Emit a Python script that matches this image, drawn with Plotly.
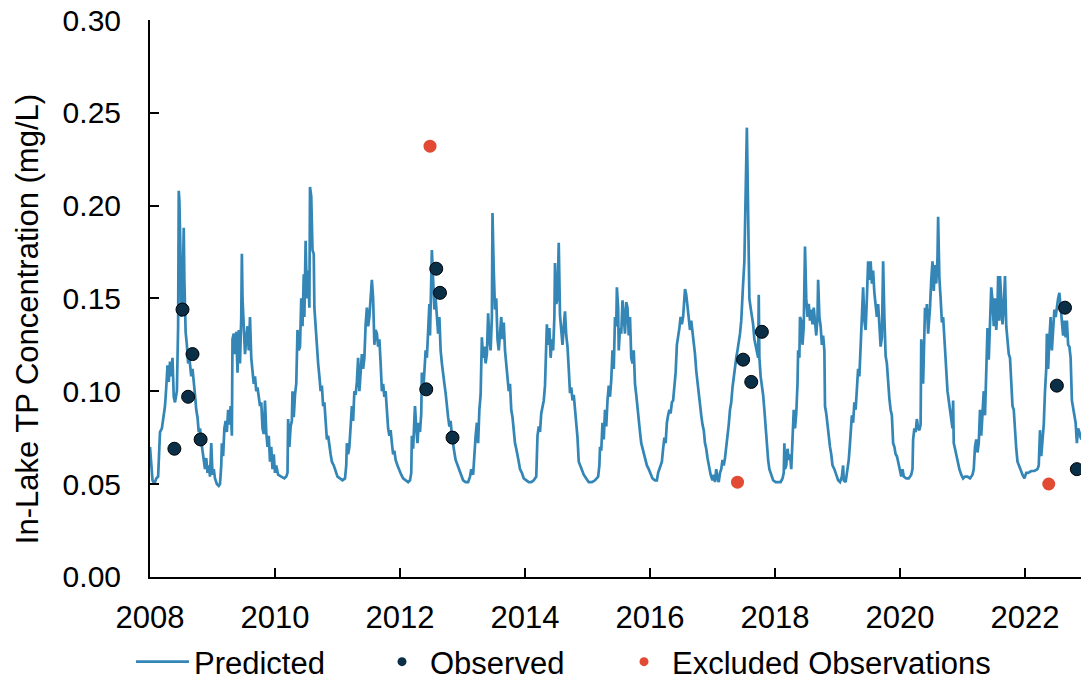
import plotly.graph_objects as go

# Predicted in-lake total phosphorus (decimal year, mg/L)
pred_year = [
    2008.00, 2008.02, 2008.04, 2008.07, 2008.10, 2008.13, 2008.16, 2008.19, 2008.22, 2008.24,
    2008.26, 2008.28, 2008.30, 2008.32, 2008.34, 2008.36, 2008.38, 2008.40, 2008.43, 2008.45,
    2008.46, 2008.47, 2008.49, 2008.50, 2008.52, 2008.54, 2008.55, 2008.57, 2008.59, 2008.61,
    2008.63, 2008.66, 2008.68, 2008.70, 2008.72, 2008.74, 2008.76, 2008.78, 2008.80, 2008.82,
    2008.84, 2008.86, 2008.88, 2008.90, 2008.92, 2008.94, 2008.96, 2008.98, 2009.00, 2009.02,
    2009.04, 2009.07, 2009.10, 2009.12,
    2009.14, 2009.15, 2009.17, 2009.19, 2009.21, 2009.23, 2009.25, 2009.27, 2009.29, 2009.31,
    2009.32, 2009.34, 2009.36, 2009.38, 2009.40, 2009.42, 2009.44, 2009.46, 2009.47, 2009.48,
    2009.50, 2009.52, 2009.54, 2009.56, 2009.58, 2009.60, 2009.62, 2009.64, 2009.66, 2009.68,
    2009.70, 2009.72, 2009.74, 2009.76, 2009.78, 2009.80, 2009.82, 2009.84, 2009.86, 2009.88,
    2009.90, 2009.92, 2009.94, 2009.96, 2009.98, 2010.00, 2010.02, 2010.05, 2010.10, 2010.15,
    2010.18,
    2010.20, 2010.21, 2010.23, 2010.25, 2010.27, 2010.28, 2010.30, 2010.32, 2010.34, 2010.36,
    2010.38, 2010.40, 2010.42, 2010.44, 2010.46, 2010.47, 2010.49, 2010.51, 2010.53, 2010.55,
    2010.56, 2010.58, 2010.60, 2010.62, 2010.63, 2010.65, 2010.67, 2010.69, 2010.71, 2010.73,
    2010.75, 2010.77, 2010.79, 2010.81, 2010.83, 2010.85, 2010.87, 2010.89, 2010.91, 2010.94,
    2010.97, 2011.00, 2011.04, 2011.08, 2011.12,
    2011.14, 2011.15, 2011.17, 2011.19, 2011.21, 2011.23, 2011.25, 2011.27, 2011.29, 2011.31,
    2011.33, 2011.35, 2011.37, 2011.39, 2011.41, 2011.43, 2011.45, 2011.47, 2011.49, 2011.51,
    2011.53, 2011.55, 2011.57, 2011.59, 2011.61, 2011.63, 2011.65, 2011.67, 2011.69, 2011.71,
    2011.73, 2011.75, 2011.77, 2011.79, 2011.81, 2011.83, 2011.85, 2011.87, 2011.89, 2011.91,
    2011.93, 2011.96, 2011.99, 2012.02, 2012.05, 2012.09, 2012.13, 2012.16,
    2012.18, 2012.19, 2012.21, 2012.23, 2012.24, 2012.26, 2012.28, 2012.30, 2012.32, 2012.34,
    2012.35, 2012.37, 2012.39, 2012.41, 2012.43, 2012.45, 2012.47, 2012.48, 2012.50, 2012.51,
    2012.53, 2012.55, 2012.57, 2012.59, 2012.61, 2012.63, 2012.65, 2012.67, 2012.69, 2012.71,
    2012.73, 2012.75, 2012.77, 2012.79, 2012.81, 2012.83, 2012.85, 2012.87, 2012.89, 2012.92,
    2012.95, 2012.98, 2013.01, 2013.05, 2013.09, 2013.12,
    2013.14, 2013.17, 2013.19, 2013.21, 2013.23, 2013.25, 2013.27, 2013.29, 2013.31, 2013.33,
    2013.35, 2013.37, 2013.39, 2013.41, 2013.43, 2013.45, 2013.47, 2013.48, 2013.50, 2013.52,
    2013.54, 2013.56, 2013.58, 2013.60, 2013.62, 2013.64, 2013.66, 2013.68, 2013.70, 2013.72,
    2013.74, 2013.76, 2013.78, 2013.80, 2013.82, 2013.84, 2013.86, 2013.88, 2013.90, 2013.92,
    2013.95, 2013.98, 2014.02, 2014.06, 2014.10, 2014.14, 2014.18,
    2014.20, 2014.22, 2014.24, 2014.26, 2014.28, 2014.30, 2014.32, 2014.34, 2014.35, 2014.37,
    2014.39, 2014.41, 2014.43, 2014.45, 2014.47, 2014.48, 2014.50, 2014.52, 2014.54, 2014.56,
    2014.58, 2014.60, 2014.62, 2014.64, 2014.66, 2014.68, 2014.70, 2014.72, 2014.74, 2014.76,
    2014.78, 2014.80, 2014.82, 2014.84, 2014.86, 2014.88, 2014.91, 2014.94, 2014.98, 2015.02,
    2015.07, 2015.12, 2015.17,
    2015.19, 2015.20, 2015.22, 2015.24, 2015.26, 2015.28, 2015.30, 2015.32, 2015.34, 2015.36,
    2015.38, 2015.40, 2015.42, 2015.44, 2015.46, 2015.47, 2015.49, 2015.50, 2015.52, 2015.54,
    2015.56, 2015.58, 2015.60, 2015.62, 2015.64, 2015.66, 2015.68, 2015.70, 2015.72, 2015.74,
    2015.76, 2015.78, 2015.80, 2015.82, 2015.84, 2015.86, 2015.88, 2015.90, 2015.92, 2015.95,
    2015.98, 2016.01, 2016.04, 2016.08, 2016.11, 2016.13,
    2016.15, 2016.17, 2016.19, 2016.21, 2016.23, 2016.25, 2016.27, 2016.29, 2016.31, 2016.33,
    2016.35, 2016.37, 2016.39, 2016.41, 2016.43, 2016.45, 2016.47, 2016.49, 2016.51, 2016.53,
    2016.55, 2016.56, 2016.58, 2016.60, 2016.62, 2016.64, 2016.66, 2016.68, 2016.70, 2016.72,
    2016.74, 2016.76, 2016.78, 2016.80, 2016.82, 2016.84, 2016.86, 2016.88, 2016.90, 2016.92,
    2016.94, 2016.97, 2017.00, 2017.02, 2017.04, 2017.06, 2017.08, 2017.10, 2017.12, 2017.14,
    2017.16, 2017.18, 2017.20, 2017.22, 2017.24, 2017.26, 2017.28, 2017.30, 2017.32, 2017.34,
    2017.36, 2017.38, 2017.40, 2017.42, 2017.44, 2017.46, 2017.47, 2017.49, 2017.51, 2017.52,
    2017.54, 2017.55, 2017.56, 2017.57, 2017.58, 2017.59, 2017.61, 2017.63, 2017.65, 2017.67,
    2017.69, 2017.71, 2017.73, 2017.74, 2017.75, 2017.77, 2017.79, 2017.81, 2017.83, 2017.85,
    2017.87, 2017.89, 2017.91, 2017.94, 2017.97, 2018.01, 2018.05, 2018.09, 2018.12,
    2018.14, 2018.15, 2018.16, 2018.18, 2018.20, 2018.22, 2018.24, 2018.26, 2018.28, 2018.30,
    2018.32, 2018.34, 2018.36, 2018.37, 2018.39, 2018.40, 2018.42, 2018.44, 2018.46, 2018.48,
    2018.50, 2018.52, 2018.54, 2018.56, 2018.58, 2018.60, 2018.62, 2018.64, 2018.66, 2018.68,
    2018.69, 2018.71, 2018.73, 2018.75, 2018.77, 2018.79, 2018.80, 2018.82, 2018.84, 2018.86,
    2018.88, 2018.90, 2018.92, 2018.95, 2018.98, 2019.01, 2019.04, 2019.07, 2019.09, 2019.10,
    2019.13, 2019.16,
    2019.18, 2019.20, 2019.22, 2019.23, 2019.25, 2019.27, 2019.29, 2019.31, 2019.33, 2019.35,
    2019.37, 2019.39, 2019.41, 2019.43, 2019.45, 2019.47, 2019.49, 2019.51, 2019.53, 2019.55,
    2019.57, 2019.59, 2019.61, 2019.63, 2019.65, 2019.67, 2019.69, 2019.71, 2019.73, 2019.75,
    2019.77, 2019.79, 2019.81, 2019.83, 2019.85, 2019.87, 2019.89, 2019.91, 2019.93, 2019.95,
    2019.97, 2019.99, 2020.02, 2020.04, 2020.06, 2020.10, 2020.14, 2020.18, 2020.20,
    2020.21, 2020.23, 2020.25, 2020.27, 2020.29, 2020.31, 2020.33, 2020.34, 2020.35, 2020.37,
    2020.39, 2020.40, 2020.42, 2020.43, 2020.45, 2020.47, 2020.48, 2020.50, 2020.52, 2020.54,
    2020.56, 2020.58, 2020.60, 2020.61, 2020.63, 2020.65, 2020.67, 2020.69, 2020.71, 2020.72,
    2020.74, 2020.76, 2020.78, 2020.80, 2020.82, 2020.84, 2020.85, 2020.86, 2020.88, 2020.90,
    2020.92, 2020.95, 2020.98, 2021.01, 2021.04, 2021.08, 2021.12, 2021.16, 2021.18,
    2021.20, 2021.22, 2021.24, 2021.26, 2021.28, 2021.30, 2021.32, 2021.34, 2021.36, 2021.38,
    2021.40, 2021.42, 2021.44, 2021.46, 2021.48, 2021.50, 2021.52, 2021.54, 2021.56, 2021.57,
    2021.59, 2021.60, 2021.62, 2021.64, 2021.66, 2021.68, 2021.70, 2021.72, 2021.74, 2021.76,
    2021.78, 2021.80, 2021.82, 2021.84, 2021.86, 2021.88, 2021.90, 2021.93, 2021.96, 2021.99,
    2022.02, 2022.05, 2022.10, 2022.15, 2022.20, 2022.22,
    2022.24, 2022.26, 2022.28, 2022.30, 2022.32, 2022.34, 2022.35, 2022.37, 2022.39, 2022.41,
    2022.43, 2022.45, 2022.47, 2022.49, 2022.51, 2022.53, 2022.55, 2022.57, 2022.59, 2022.61,
    2022.63, 2022.65, 2022.67, 2022.69, 2022.71, 2022.73, 2022.75, 2022.77, 2022.79, 2022.81,
    2022.83, 2022.85, 2022.87, 2022.89, 2022.91,
]
pred_tp = [
    0.070, 0.062, 0.052, 0.050, 0.053, 0.054, 0.078, 0.080, 0.088, 0.092,
    0.102, 0.114, 0.105, 0.116, 0.108, 0.118, 0.097, 0.094, 0.100, 0.135,
    0.208, 0.203, 0.170, 0.140, 0.150, 0.188, 0.160, 0.132, 0.125, 0.115,
    0.118, 0.108, 0.112, 0.102, 0.098, 0.090, 0.086, 0.078, 0.080, 0.073,
    0.068, 0.062, 0.058, 0.064, 0.056, 0.060, 0.054, 0.072, 0.055, 0.058,
    0.053, 0.050, 0.049, 0.050,
    0.060, 0.072, 0.065, 0.080, 0.084, 0.078, 0.090, 0.082, 0.092, 0.076,
    0.128, 0.131, 0.120, 0.132, 0.110, 0.133, 0.115, 0.140, 0.174, 0.150,
    0.130, 0.120, 0.128, 0.135, 0.122, 0.140, 0.118, 0.110, 0.104, 0.108,
    0.100, 0.102, 0.098, 0.092, 0.094, 0.080, 0.077, 0.095, 0.078, 0.070,
    0.076, 0.062, 0.070, 0.058, 0.066, 0.056, 0.060, 0.055, 0.054, 0.053,
    0.054,
    0.056, 0.085, 0.070, 0.081, 0.084, 0.100, 0.086, 0.098, 0.104, 0.133,
    0.122, 0.124, 0.150, 0.135, 0.163, 0.140, 0.181, 0.150, 0.165, 0.145,
    0.210, 0.205, 0.176, 0.174, 0.145, 0.135, 0.122, 0.115, 0.108, 0.100,
    0.103, 0.092, 0.094, 0.085, 0.074, 0.076, 0.069, 0.066, 0.062, 0.060,
    0.057, 0.054, 0.053, 0.052, 0.053,
    0.060, 0.072, 0.066, 0.070, 0.082, 0.092, 0.084, 0.100, 0.098, 0.105,
    0.118, 0.100, 0.110, 0.120, 0.112, 0.118, 0.136, 0.145, 0.135, 0.140,
    0.150, 0.160, 0.150, 0.125, 0.133, 0.131, 0.124, 0.128, 0.115, 0.100,
    0.104, 0.097, 0.100, 0.086, 0.080, 0.076, 0.079, 0.072, 0.066, 0.068,
    0.063, 0.060, 0.057, 0.055, 0.053, 0.052, 0.051, 0.052,
    0.056, 0.076, 0.069, 0.085, 0.092, 0.080, 0.072, 0.083, 0.078, 0.088,
    0.110, 0.099, 0.115, 0.122, 0.118, 0.135, 0.147, 0.130, 0.170, 0.176,
    0.160, 0.144, 0.150, 0.137, 0.131, 0.140, 0.122, 0.115, 0.108, 0.104,
    0.099, 0.090, 0.086, 0.081, 0.084, 0.076, 0.070, 0.067, 0.063, 0.060,
    0.057, 0.054, 0.052, 0.051, 0.051, 0.054,
    0.058, 0.055, 0.069, 0.076, 0.083, 0.072, 0.090, 0.098, 0.129, 0.118,
    0.124, 0.115, 0.120, 0.142, 0.128, 0.122, 0.140, 0.196, 0.165, 0.144,
    0.150, 0.128, 0.122, 0.130, 0.140, 0.128, 0.137, 0.122, 0.115, 0.108,
    0.100, 0.104, 0.090, 0.086, 0.076, 0.072, 0.069, 0.064, 0.062, 0.058,
    0.056, 0.053, 0.052, 0.051, 0.051, 0.052, 0.054,
    0.076, 0.081, 0.078, 0.088, 0.092, 0.095, 0.103, 0.122, 0.136, 0.125,
    0.134, 0.118, 0.128, 0.122, 0.140, 0.169, 0.147, 0.150, 0.180, 0.141,
    0.130, 0.125, 0.135, 0.143, 0.130, 0.124, 0.112, 0.099, 0.102, 0.095,
    0.098, 0.090, 0.079, 0.075, 0.062, 0.060, 0.058, 0.055, 0.053, 0.051,
    0.051, 0.052, 0.054,
    0.060, 0.070, 0.068, 0.083, 0.074, 0.090, 0.081, 0.095, 0.103, 0.097,
    0.106, 0.122, 0.112, 0.140, 0.135, 0.156, 0.145, 0.122, 0.134, 0.131,
    0.149, 0.140, 0.131, 0.148, 0.145, 0.130, 0.140, 0.118, 0.115, 0.122,
    0.104, 0.098, 0.090, 0.086, 0.078, 0.072, 0.069, 0.066, 0.063, 0.060,
    0.058, 0.055, 0.053, 0.052, 0.052, 0.056,
    0.058, 0.060, 0.062, 0.069, 0.075, 0.072, 0.083, 0.087, 0.090, 0.088,
    0.094, 0.095, 0.102, 0.110, 0.125, 0.129, 0.134, 0.140, 0.136, 0.140,
    0.148, 0.155, 0.152, 0.145, 0.140, 0.133, 0.138, 0.133, 0.125, 0.120,
    0.111, 0.104, 0.100, 0.094, 0.087, 0.082, 0.079, 0.072, 0.069, 0.064,
    0.060, 0.055, 0.052, 0.055, 0.051, 0.058, 0.053, 0.051, 0.056, 0.058,
    0.063, 0.060, 0.064, 0.070, 0.074, 0.082, 0.090, 0.094, 0.102, 0.108,
    0.112, 0.118, 0.122, 0.126, 0.131, 0.138, 0.149, 0.158, 0.170, 0.188,
    0.215, 0.242, 0.220, 0.192, 0.172, 0.150, 0.145, 0.140, 0.136, 0.128,
    0.125, 0.122, 0.118, 0.152, 0.118, 0.108, 0.104, 0.098, 0.090, 0.080,
    0.072, 0.063, 0.058, 0.055, 0.052, 0.051, 0.051, 0.051, 0.053,
    0.056, 0.072, 0.058, 0.060, 0.069, 0.063, 0.066, 0.058, 0.076, 0.090,
    0.080, 0.088, 0.104, 0.122, 0.118, 0.140, 0.138, 0.125, 0.135, 0.178,
    0.150, 0.140, 0.147, 0.138, 0.144, 0.136, 0.145, 0.137, 0.130, 0.140,
    0.160, 0.140, 0.135, 0.125, 0.130, 0.122, 0.092, 0.088, 0.081, 0.075,
    0.070, 0.066, 0.060, 0.058, 0.055, 0.052, 0.051, 0.054, 0.060, 0.052,
    0.051, 0.058,
    0.063, 0.072, 0.080, 0.087, 0.083, 0.094, 0.090, 0.100, 0.112, 0.108,
    0.125, 0.140, 0.156, 0.138, 0.133, 0.150, 0.170, 0.160, 0.170, 0.158,
    0.165, 0.153, 0.145, 0.140, 0.147, 0.133, 0.124, 0.129, 0.170, 0.140,
    0.119, 0.115, 0.104, 0.096, 0.090, 0.087, 0.072, 0.070, 0.066, 0.065,
    0.062, 0.058, 0.054, 0.058, 0.054, 0.053, 0.053, 0.055, 0.058,
    0.074, 0.080, 0.078, 0.085, 0.080, 0.079, 0.082, 0.128, 0.120, 0.104,
    0.130, 0.145, 0.140, 0.147, 0.131, 0.140, 0.145, 0.160, 0.170, 0.154,
    0.168, 0.158, 0.172, 0.194, 0.161, 0.150, 0.137, 0.140, 0.128, 0.117,
    0.108, 0.100, 0.095, 0.090, 0.087, 0.080, 0.095, 0.072, 0.069, 0.066,
    0.062, 0.058, 0.055, 0.053, 0.054, 0.054, 0.053, 0.055, 0.058,
    0.070, 0.074, 0.067, 0.072, 0.090, 0.076, 0.088, 0.100, 0.087, 0.118,
    0.134, 0.117, 0.140, 0.156, 0.149, 0.135, 0.150, 0.133, 0.145, 0.162,
    0.138, 0.162, 0.150, 0.136, 0.145, 0.162, 0.135, 0.128, 0.120, 0.118,
    0.100, 0.092, 0.090, 0.076, 0.069, 0.062, 0.060, 0.058, 0.055, 0.053,
    0.056, 0.056, 0.057, 0.057, 0.058, 0.060,
    0.079, 0.065, 0.075, 0.082, 0.100, 0.112, 0.131, 0.112, 0.128, 0.140,
    0.122, 0.135, 0.144, 0.140, 0.146, 0.150, 0.153, 0.145, 0.140, 0.130,
    0.138, 0.129, 0.138, 0.125, 0.124, 0.118, 0.095, 0.090, 0.087, 0.083,
    0.072, 0.080, 0.078, 0.075, 0.074,
]

# Field samples used in calibration
obs_year = [2008.39, 2008.52, 2008.61, 2008.68, 2008.81,
            2012.42, 2012.58, 2012.64, 2012.84,
            2017.49, 2017.62, 2017.79,
            2022.51, 2022.64, 2022.83]
obs_tp = [0.069, 0.144, 0.097, 0.120, 0.074,
          0.101, 0.166, 0.153, 0.075,
          0.117, 0.105, 0.132,
          0.103, 0.145, 0.058]

# Samples left out of calibration
excl_year = [2012.48, 2017.40, 2022.38]
excl_tp = [0.232, 0.051, 0.050]

year_ticks = [2008, 2010, 2012, 2014, 2016, 2018, 2020, 2022]
tp_ticks = [0.00, 0.05, 0.10, 0.15, 0.20, 0.25, 0.30]

FONT = "Liberation Sans, Arial, sans-serif"
LINE_BLUE = "#3386b6"
OBS_NAVY = "#0a2f47"
EXCL_RED = "#e24a33"
W, H = 1081, 682
L, R, T, B = 150, 0, 20, 100

fig = go.Figure()

fig.add_trace(go.Scatter(
    x=pred_year, y=pred_tp, mode="lines", name="Predicted", legend="legend",
    line=dict(color=LINE_BLUE, width=2.7),
))
fig.add_trace(go.Scatter(
    x=obs_year, y=obs_tp, mode="markers", name="Observed", showlegend=False,
    marker=dict(color=OBS_NAVY, size=13, line=dict(color="black", width=1)),
))
fig.add_trace(go.Scatter(
    x=excl_year, y=excl_tp, mode="markers", name="Excluded Observations",
    showlegend=False,
    marker=dict(color=EXCL_RED, size=13, line=dict(width=0)),
))
# legend entries with smaller symbols, each in its own legend box
fig.add_trace(go.Scatter(
    x=[None], y=[None], mode="markers", name="Observed", legend="legend2",
    marker=dict(color=OBS_NAVY, size=9),
))
fig.add_trace(go.Scatter(
    x=[None], y=[None], mode="markers", name="Excluded Observations",
    legend="legend3", marker=dict(color=EXCL_RED, size=9),
))

axis_common = dict(
    showgrid=False, zeroline=False, showline=True, linecolor="black", linewidth=2,
    ticks="inside", ticklen=9, tickwidth=1.5, tickcolor="black",
)

fig.update_xaxes(
    range=[2008, 2008 + (W - L - R) / 62.5], tickmode="array", tickvals=year_ticks,
    ticktext=[str(v) for v in year_ticks], ticklabelstandoff=12,
    tickfont=dict(family=FONT, size=31, color="black"), **axis_common,
)
fig.update_yaxes(
    range=[0, 0.30], tickmode="array", tickvals=tp_ticks,
    ticktext=[f"{v:.2f}" for v in tp_ticks], ticklabelstandoff=21,
    tickfont=dict(family=FONT, size=30, color="black"), **axis_common,
)

fig.add_annotation(
    text="In-Lake TP Concentration (mg/L)", textangle=-90,
    xref="paper", yref="paper", x=(27 - L) / (W - L - R), y=(582 - 322) / 562,
    xanchor="center", yanchor="middle", showarrow=False,
    font=dict(family=FONT, size=31, color="black"),
)

legend_common = dict(
    orientation="h", xref="container", yref="container",
    xanchor="left", y=(H - 662) / H, yanchor="middle",
    font=dict(family=FONT, size=31, color="black"),
    bgcolor="rgba(0,0,0,0)", borderwidth=0,
)

fig.update_layout(
    width=W, height=H,
    margin=dict(l=L, r=R, t=T, b=B, pad=0),
    paper_bgcolor="white", plot_bgcolor="white",
    font=dict(family=FONT, size=30, color="black"),
    legend=dict(x=131 / W, itemwidth=53, **legend_common),
    legend2=dict(x=374 / W, itemwidth=46, **legend_common),
    legend3=dict(x=616 / W, itemwidth=46, **legend_common),
)

fig.write_html("out.html")
